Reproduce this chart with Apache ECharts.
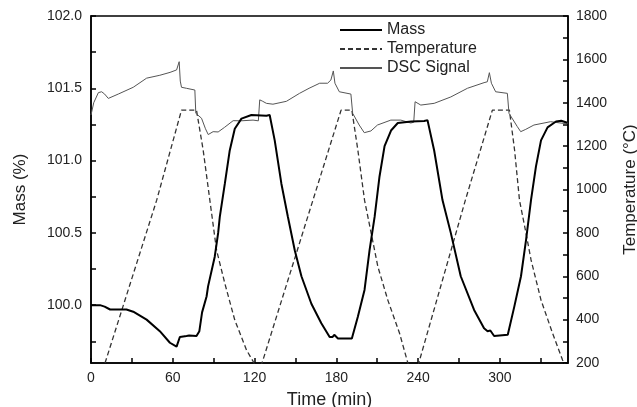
<!DOCTYPE html>
<html>
<head>
<meta charset="utf-8">
<script src="https://cdn.jsdelivr.net/npm/echarts@6/dist/echarts.min.js"></script>
<style>html,body{margin:0;padding:0;background:#fff;}#c{width:637px;height:407px;}</style>
</head>
<body>
<div id="c"></div>
<script>
// Time (min) and mass (%) — Mass series
const massTime = [0,6.6,10,14,26,31,40.8,50.5,57.9,62.8,64,65.2,66,70.1,72,77.4,79.5,81.5,84.8,85.9,90.8,93.3,94.5,98.2,101.8,105.5,110.4,117.7,128.7,131.1,134.8,139.7,144.5,149.5,154.4,161.7,169,175.1,177.3,178.5,181.2,191.4,195.8,200.7,204.4,208.1,211.7,215.4,220.3,225.1,235,244.5,246.9,251.8,257.9,264,271.3,281.1,288.4,291,292.1,293,295.8,305.8,310.6,315.5,319.2,322.9,326.5,330.2,335,341.2,345,349.5];
const massValues = [100.0,100.0,99.99,99.97,99.97,99.955,99.9,99.82,99.74,99.713,99.72,99.78,99.785,99.787,99.79,99.787,99.82,99.95,100.06,100.13,100.335,100.5,100.61,100.84,101.07,101.22,101.29,101.315,101.31,101.315,101.14,100.84,100.61,100.38,100.2,100.01,99.875,99.78,99.78,99.795,99.77,99.77,99.92,100.105,100.38,100.61,100.89,101.1,101.21,101.26,101.27,101.274,101.28,101.07,100.727,100.5,100.2,99.967,99.84,99.82,99.81,99.825,99.787,99.795,99.99,100.2,100.45,100.73,100.96,101.14,101.23,101.27,101.275,101.262];

// Temperature (°C)
const tempTime = [10.3,48.2,66.4,77.4,82.3,87.2,92.1,98.2,105.5,114.1,119.6,122.5,125.5,183.5,191.4,195.8,200.7,205.6,210.5,217.8,226.4,232.5,236.5,240.5,274.7,294.5,307,310.8,314.4,319.2,322.9,330.2,338.7,346,349.5];
const tempValues = [200,951,1366,1366,1182,951,721,567,398,260,200,170,200,1366,1366,1182,951,798,644,490,337,200,150,200,951,1366,1366,1182,951,798,675,490,337,214,175];

// DSC signal (plotted on mass scale)
const dscTime = [0,2,5.4,7.8,10,12.7,20,31,40.8,50.5,58,62.8,64,64.7,65.5,66.4,70,76.2,76.9,81.1,84,86,89.6,93.3,98,104.3,110,118.9,122.8,123.8,126,128.7,133.5,143.4,153,160,167.8,173.6,176,177.8,179,182.2,190.7,192,196.8,200.5,205.4,210.2,220,227.3,234.6,236.8,237.8,242,251.8,264,276.2,288.4,290.8,292.3,293.8,296.9,305.5,306.7,312.8,315.3,319,325,337.2,347,350];
const dscValues = [101.315,101.40,101.47,101.476,101.46,101.43,101.46,101.507,101.57,101.59,101.61,101.627,101.63,101.684,101.55,101.507,101.5,101.488,101.327,101.293,101.22,101.18,101.2,101.198,101.23,101.276,101.275,101.28,101.275,101.42,101.41,101.396,101.39,101.41,101.465,101.5,101.535,101.535,101.557,101.62,101.535,101.476,101.46,101.327,101.246,101.193,101.205,101.246,101.28,101.28,101.26,101.265,101.407,101.384,101.396,101.44,101.5,101.539,101.545,101.608,101.535,101.476,101.465,101.327,101.235,101.2,101.216,101.246,101.269,101.257,101.26];

// Axis ticks / labels
const xLabels = [0,60,120,180,240,300];
const xTicks = [0,30,60,90,120,150,180,210,240,270,300,330];
const massLabels = [100.0,100.5,101.0,101.5,102.0];
const massTicks = [99.75,100.0,100.25,100.5,100.75,101.0,101.25,101.5,101.75,102.0];
const tempLabels = [200,400,600,800,1000,1200,1400,1600,1800];
const tempTicks = [200,300,400,500,600,700,800,900,1000,1100,1200,1300,1400,1500,1600,1700,1800];

const zip = (a,b) => a.map((v,i)=>[v,b[i]]);
const FONT = 'Liberation Sans, Arial, sans-serif';
const TXT = '#222';

const chart = echarts.init(document.getElementById('c'));
chart.setOption({
  animation: false,
  backgroundColor: '#fff',
  grid: { left: 91, right: 69, top: 16, bottom: 44, containLabel: false, outerBoundsMode: 'none',
          show: true, borderColor: '#000', borderWidth: 1.5, backgroundColor: 'transparent' },
  legend: {
    orient: 'vertical', left: 334, top: 17, itemWidth: 42, itemHeight: 10, itemGap: 3,
    itemStyle: { opacity: 0 },
    textStyle: { fontFamily: FONT, fontSize: 16, color: TXT, lineHeight: 16 },
    data: ['Mass','Temperature','DSC Signal']
  },
  xAxis: {
    type: 'value', min: 0, max: 350,
    name: 'Time (min)', nameLocation: 'middle', nameGap: 28,
    nameTextStyle: { fontFamily: FONT, fontSize: 18, color: TXT },
    axisLine: { lineStyle: { color: '#000', width: 1.5 } },
    axisTick: { inside: true, length: 5, customValues: xTicks, lineStyle: { color: '#000', width: 1.5 } },
    axisLabel: { customValues: xLabels, fontFamily: FONT, fontSize: 14, color: TXT, margin: 8 },
    splitLine: { show: false }
  },
  yAxis: [
    {
      type: 'value', min: 99.6, max: 102.0, position: 'left',
      name: 'Mass (%)', nameLocation: 'middle', nameGap: 62,
      nameTextStyle: { fontFamily: FONT, fontSize: 17, color: TXT },
      axisLine: { show: true, lineStyle: { color: '#000', width: 1.5 } },
      axisTick: { show: true, inside: true, length: 5, customValues: massTicks, lineStyle: { color: '#000', width: 1.5 } },
      axisLabel: { customValues: massLabels, formatter: v => Number(v).toFixed(1), fontFamily: FONT, fontSize: 14, color: TXT, margin: 9 },
      splitLine: { show: false }
    },
    {
      type: 'value', min: 200, max: 1800, position: 'right',
      name: 'Temperature (°C)', nameLocation: 'middle', nameGap: 54,
      nameTextStyle: { fontFamily: FONT, fontSize: 17, color: TXT },
      axisLine: { show: true, lineStyle: { color: '#000', width: 1.5 } },
      axisTick: { show: true, inside: true, length: 5, customValues: tempTicks, lineStyle: { color: '#000', width: 1.5 } },
      axisLabel: { customValues: tempLabels, formatter: v => String(Math.round(v)), fontFamily: FONT, fontSize: 14, color: TXT, margin: 8 },
      splitLine: { show: false }
    }
  ],
  series: [
    { name: 'Mass', type: 'line', yAxisIndex: 0, symbol: 'none', z: 5,
      lineStyle: { color: '#000', width: 2 }, itemStyle: { color: '#000' },
      data: zip(massTime, massValues) },
    { name: 'Temperature', type: 'line', yAxisIndex: 1, symbol: 'none', z: 3, clip: true,
      lineStyle: { color: '#333', width: 1.3, type: [5,3] }, itemStyle: { color: '#333' },
      data: zip(tempTime, tempValues) },
    { name: 'DSC Signal', type: 'line', yAxisIndex: 0, symbol: 'none', z: 4,
      lineStyle: { color: '#555', width: 1 }, itemStyle: { color: '#555' },
      data: zip(dscTime, dscValues) }
  ]
});
</script>
</body>
</html>
